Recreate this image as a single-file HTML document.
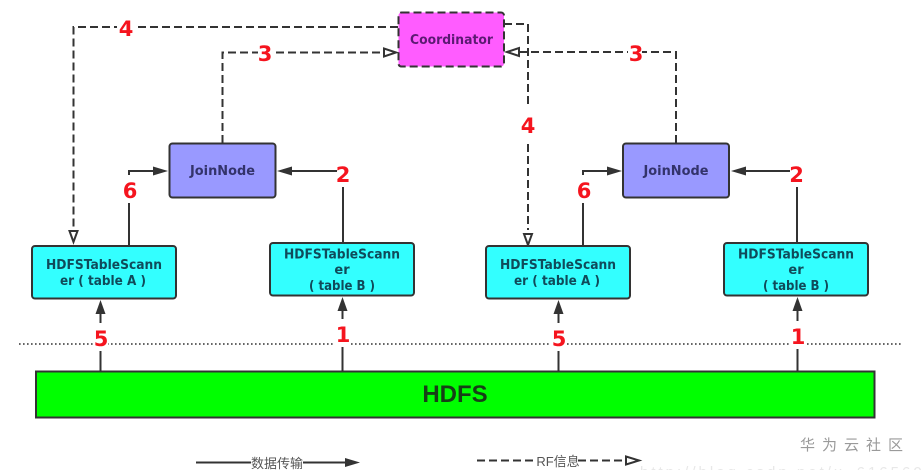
<!DOCTYPE html>
<html><head><meta charset="utf-8">
<style>
html,body{margin:0;padding:0;background:#fff;width:921px;height:470px;overflow:hidden}
svg{display:block}
.n{font-family:"DejaVu Sans",sans-serif;font-weight:bold;font-size:13px;text-anchor:middle}
.r{font-family:"DejaVu Sans",sans-serif;font-weight:bold;font-size:21px;fill:#f5141e;text-anchor:middle}
</style></head><body>
<svg width="921" height="470" viewBox="0 0 921 470" xmlns="http://www.w3.org/2000/svg">
<g fill="none" stroke="#333" stroke-width="2" stroke-dasharray="8 4">
<path d="M398 27H73.500V228"/>
<path d="M222.500 143V52.500H384"/>
<path d="M504 24H528V230"/>
<path d="M676 143V52H520"/>
</g>
<g fill="#fff" stroke="#333" stroke-width="2">
<path d="M73.500 242L69.500 231H77.500Z"/>
<path d="M528 245L524 234H532Z"/>
<path d="M396 52.500L384 48.500V56.500Z"/>
<path d="M507 52L519 48V56Z"/>
</g>
<path d="M19 344H902" stroke="#333" stroke-width="1.600" stroke-dasharray="1.600 2.400" fill="none"/>
<g fill="none" stroke="#333" stroke-width="2">
<path d="M129 246V171H155"/>
<path d="M343 243V171H291"/>
<path d="M583 246V171H609"/>
<path d="M797 243V171H745"/>
<path d="M100.500 371V312"/>
<path d="M342.500 371V309"/>
<path d="M558.500 371V312"/>
<path d="M797.500 371V309"/>
<path d="M196 462.500H345"/>
</g>
<g fill="#333">
<path d="M168 171L153 166.500V175.500Z"/>
<path d="M277 171L292 166.500V175.500Z"/>
<path d="M622 171L607 166.500V175.500Z"/>
<path d="M731 171L746 166.500V175.500Z"/>
<path d="M100.500 300L95.500 314H105.500Z"/>
<path d="M342.500 297L337.500 311H347.500Z"/>
<path d="M558.500 300L553.500 314H563.500Z"/>
<path d="M797.500 297L792.500 311H802.500Z"/>
<path d="M360 462.500L345 458V467Z"/>
</g>
<rect x="398.500" y="12.500" width="105.500" height="54" rx="3" fill="#ff5cff" stroke="#333" stroke-width="2" stroke-dasharray="8 4"/>
<g stroke="#333" stroke-width="2">
<rect x="169.500" y="143.500" width="106" height="54" rx="3" fill="#9999ff"/>
<rect x="623" y="143.500" width="106" height="54" rx="3" fill="#9999ff"/>
<rect x="32" y="246" width="144" height="52.500" rx="3" fill="#33ffff"/>
<rect x="270" y="243" width="144" height="52.500" rx="3" fill="#33ffff"/>
<rect x="486" y="246" width="144" height="52.500" rx="3" fill="#33ffff"/>
<rect x="724" y="243" width="144" height="52.500" rx="3" fill="#33ffff"/>
<rect x="36" y="371.500" width="838.500" height="46" fill="#00ff00"/>
</g>
<text class="n" x="451.500" y="44" fill="#5c1a73" textLength="83" lengthAdjust="spacingAndGlyphs">Coordinator</text>
<text class="n" x="222.500" y="175" fill="#33336b" textLength="65" lengthAdjust="spacingAndGlyphs">JoinNode</text>
<text class="n" x="676" y="175" fill="#33336b" textLength="65" lengthAdjust="spacingAndGlyphs">JoinNode</text>
<g fill="#104a5a">
<text class="n" x="104" y="269" textLength="116" lengthAdjust="spacingAndGlyphs">HDFSTableScann</text>
<text class="n" x="103" y="285" textLength="86" lengthAdjust="spacingAndGlyphs">er ( table A )</text>
<text class="n" x="558" y="269" textLength="116" lengthAdjust="spacingAndGlyphs">HDFSTableScann</text>
<text class="n" x="557" y="285" textLength="86" lengthAdjust="spacingAndGlyphs">er ( table A )</text>
<text class="n" x="342" y="258.500" textLength="116" lengthAdjust="spacingAndGlyphs">HDFSTableScann</text>
<text class="n" x="342" y="274">er</text>
<text class="n" x="342" y="290" textLength="66" lengthAdjust="spacingAndGlyphs">( table B )</text>
<text class="n" x="796" y="258.500" textLength="116" lengthAdjust="spacingAndGlyphs">HDFSTableScann</text>
<text class="n" x="796" y="274">er</text>
<text class="n" x="796" y="290" textLength="66" lengthAdjust="spacingAndGlyphs">( table B )</text>
</g>
<text x="455" y="402" font-family="'Liberation Sans',sans-serif" font-weight="bold" font-size="24" fill="#173f17" text-anchor="middle">HDFS</text>
<g fill="#fff">
<rect x="117" y="17" width="17" height="20"/>
<rect x="258" y="43" width="14" height="19"/>
<rect x="628" y="43" width="14" height="19"/>
<rect x="520" y="108" width="16" height="32"/>
<rect x="121" y="175" width="17" height="28"/>
<rect x="575" y="175" width="17" height="28"/>
<rect x="337" y="164" width="15" height="23"/>
<rect x="790" y="164" width="15" height="23"/>
<rect x="93" y="323" width="15" height="28"/>
<rect x="335" y="319" width="15" height="28"/>
<rect x="551" y="323" width="15" height="28"/>
<rect x="790" y="321" width="15" height="28"/>
</g>
<text class="r" x="126" y="36">4</text>
<text class="r" x="265" y="61">3</text>
<text class="r" x="636" y="61">3</text>
<text class="r" x="528" y="133">4</text>
<text class="r" x="130" y="198">6</text>
<text class="r" x="584" y="198">6</text>
<text class="r" x="343" y="182">2</text>
<text class="r" x="796.500" y="182">2</text>
<text class="r" x="101" y="346">5</text>
<text class="r" x="559" y="346">5</text>
<text class="r" x="343" y="342">1</text>
<text class="r" x="798" y="344">1</text>
<rect x="251" y="455" width="52" height="15" fill="#fff"/>
<text x="277" y="468" font-family="'Liberation Sans','Noto Sans CJK SC',sans-serif" font-size="13" fill="#555" text-anchor="middle">数据传输</text>
<path d="M477 460.500H536" stroke="#333" stroke-width="2" stroke-dasharray="8 4" fill="none"/>
<path d="M578 460.500H625" stroke="#333" stroke-width="2" stroke-dasharray="8 4" fill="none"/>
<path d="M639 460.500L626 456.500V464.500Z" fill="#fff" stroke="#333" stroke-width="2"/>
<text x="558" y="466" font-family="'Liberation Sans','Noto Sans CJK SC',sans-serif" font-size="13" fill="#555" text-anchor="middle">RF信息</text>
<text x="855" y="450" font-family="'Liberation Sans','Noto Sans CJK SC',sans-serif" font-size="15" fill="#9a9a9a" text-anchor="middle" letter-spacing="7">华为云社区</text>
<text x="640" y="477" font-family="'Liberation Sans',sans-serif" font-size="15" fill="#e8e8e8" letter-spacing="3">http://blog.csdn.net/u_616560</text>
</svg>
</body></html>
